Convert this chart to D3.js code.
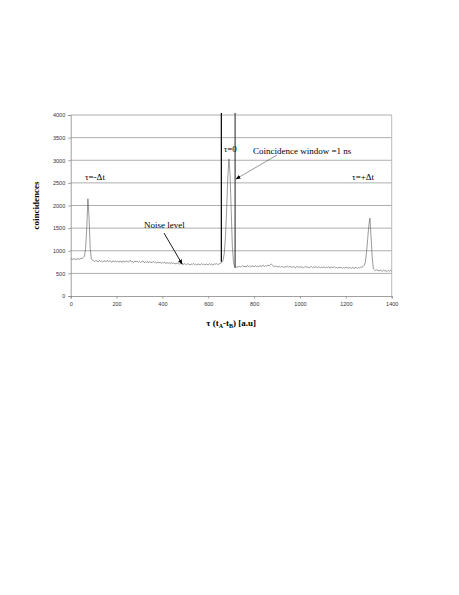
<!DOCTYPE html>
<html>
  <head>
    <meta charset="utf-8">
    <title>coincidences</title>
    <script src="https://d3js.org/d3.v7.min.js"></script>
    <style>
      body { margin: 0; background: #fff; }
      .tick text { font-family: "Liberation Sans", Arial, sans-serif; font-size: 5.5px; fill: #333; }
      .note { font-family: "Liberation Serif", "Times New Roman", serif; font-size: 9px; fill: #000; }
      .title { font-family: "Liberation Serif", "Times New Roman", serif; font-size: 9px; font-weight: bold; fill: #000; }
    </style>
  </head>
  <body>
    <svg width="459" height="595"></svg>

  <script>
    // step of the tau axis (a.u.) between two counts
    var tauStep = 5;

    // counts per 100 a.u. row (20 values each), tau = 0 .. 1400
    var counts = [
      810, 830, 805, 825, 815, 800, 835, 820, 810, 840, 825, 850, 880, 1050, 1500, 2150, 1750, 1050, 830, 790,
      780, 760, 790, 770, 755, 785, 765, 775, 750, 780, 770, 760, 790, 755, 775, 765, 745, 780, 760, 770,
      755, 775, 745, 770, 760, 740, 780, 750, 765, 775, 745, 770, 790, 750, 760, 740, 775, 755, 770, 745,
      765, 740, 760, 775, 735, 755, 745, 770, 730, 760, 745, 735, 765, 740, 750, 725, 755, 735, 745, 720,
      745, 730, 750, 715, 740, 725, 735, 710, 745, 720, 730, 705, 725, 715, 735, 700, 720, 710, 690, 715,
      705, 690, 715, 700, 685, 710, 695, 720, 690, 705, 685, 710, 700, 690, 715, 695, 705, 685, 710, 700,
      690, 715, 695, 705, 685, 710, 700, 720, 695, 705, 715, 725, 750, 800, 950, 1300, 1900, 2600, 3030, 2700,
      1900, 1100, 750, 640, 625, 650, 635, 660, 640, 655, 670, 645, 660, 640, 675, 650, 665, 640, 670, 655,
      645, 670, 650, 665, 640, 675, 655, 660, 680, 650, 670, 660, 685, 665, 690, 705, 680, 660, 645, 665,
      650, 640, 660, 635, 655, 645, 630, 650, 640, 660, 635, 650, 645, 630, 655, 640, 625, 650, 640, 635,
      650, 630, 645, 625, 640, 655, 630, 645, 620, 640, 650, 625, 640, 630, 655, 620, 645, 635, 625, 640,
      630, 645, 620, 640, 625, 650, 615, 635, 640, 620, 645, 625, 630, 615, 640, 620, 635, 610, 630, 620,
      625, 640, 610, 630, 620, 615, 640, 605, 625, 635, 610, 630, 620, 640, 635, 650, 680, 750, 950, 1250,
      1550, 1720, 1300, 850, 600, 575, 560, 580, 565, 555, 575, 560, 545, 570, 555, 560, 540, 565, 550, 560,
      555
    ];

    var xTicks = [0, 200, 400, 600, 800, 1000, 1200, 1400];
    var yTicks = [0, 500, 1000, 1500, 2000, 2500, 3000, 3500, 4000];

    // coincidence window edges (a.u.)
    var windowEdges = [657, 717];
    var windowEdgeBottoms = [755, 625];

    var svg = d3.select("svg");

    var plotL = 70.7, plotR = 391.7, plotT = 115, plotB = 296;

    var xScale = d3.scaleLinear().domain([0, 1400]).range([plotL, plotR]);
    var yScale = d3.scaleLinear().domain([0, 4000]).range([plotB, plotT]);

    svg.append("defs").append("marker")
      .attr("id", "head")
      .attr("viewBox", "0 0 10 10")
      .attr("refX", 9).attr("refY", 5)
      .attr("markerWidth", 5).attr("markerHeight", 5)
      .attr("markerUnits", "userSpaceOnUse")
      .attr("orient", "auto")
      .append("path")
      .attr("d", "M0,1 L10,5 L0,9 Z")
      .attr("fill", "#000");

    // grid lines
    svg.append("g")
      .selectAll("line")
      .data(yTicks.slice(1))
      .enter().append("line")
      .attr("x1", plotL).attr("x2", plotR)
      .attr("y1", function(d) { return yScale(d); })
      .attr("y2", function(d) { return yScale(d); })
      .attr("stroke", "#999")
      .attr("stroke-width", 0.8);

    // right border of plot area
    svg.append("line")
      .attr("x1", plotR).attr("x2", plotR)
      .attr("y1", plotT).attr("y2", plotB)
      .attr("stroke", "#aaa")
      .attr("stroke-width", 0.8);

    // axes
    var xAxis = svg.append("g")
      .attr("transform", "translate(0," + plotB + ")")
      .call(d3.axisBottom(xScale).tickValues(xTicks).tickFormat(d3.format("d")).tickSize(2.5).tickPadding(4));
    var yAxis = svg.append("g")
      .attr("transform", "translate(" + plotL + ",0)")
      .call(d3.axisLeft(yScale).tickValues(yTicks).tickFormat(d3.format("d")).tickSize(2.5).tickPadding(3));

    [xAxis, yAxis].forEach(function(a) {
      a.select(".domain").attr("stroke", "#888").attr("stroke-width", 0.8);
      a.selectAll(".tick line").attr("stroke", "#888").attr("stroke-width", 0.8);
    });

    // data line
    var line = d3.line()
      .x(function(d, i) { return xScale(i * tauStep); })
      .y(function(d) { return yScale(d); });

    svg.append("path")
      .datum(counts)
      .attr("d", line)
      .attr("fill", "none")
      .attr("stroke", "#555")
      .attr("stroke-width", 0.6);

    // window edges
    svg.selectAll(".edge")
      .data(windowEdges)
      .enter().append("line")
      .attr("class", "edge")
      .attr("x1", function(d) { return xScale(d); })
      .attr("x2", function(d) { return xScale(d); })
      .attr("y1", yScale(4045))
      .attr("y2", function(d, i) { return yScale(windowEdgeBottoms[i]); })
      .attr("stroke", function(d, i) { return i === 0 ? "#000" : "#444"; })
      .attr("stroke-width", 1.2);

    // annotations
    function note(x, y, txt) {
      svg.append("text").attr("class", "note")
        .attr("x", xScale(x)).attr("y", yScale(y))
        .text(txt);
    }
    note(62, 2560, "τ=-Δt");
    note(667, 3180, "τ=0");
    note(795, 3140, "Coincidence window =1 ns");
    note(1227, 2560, "τ=+Δt");
    note(320, 1500, "Noise level");

    svg.append("line")
      .attr("x1", xScale(407)).attr("y1", yScale(1390))
      .attr("x2", xScale(486)).attr("y2", yScale(707))
      .attr("stroke", "#000").attr("stroke-width", 0.9)
      .attr("marker-end", "url(#head)");

    svg.append("line")
      .attr("x1", xScale(900)).attr("y1", yScale(3116))
      .attr("x2", xScale(721)).attr("y2", yScale(2586))
      .attr("stroke", "#555").attr("stroke-width", 0.6)
      .attr("marker-end", "url(#head)");

    // axis titles
    svg.append("text")
      .attr("class", "title")
      .attr("transform", "translate(39," + ((plotT + plotB) / 2) + ") rotate(-90)")
      .attr("text-anchor", "middle")
      .text("coincidences");

    var xt = svg.append("text")
      .attr("class", "title")
      .attr("x", (plotL + plotR) / 2)
      .attr("y", 326)
      .attr("text-anchor", "middle");
    xt.append("tspan").text("τ (t");
    xt.append("tspan").attr("font-size", "6px").attr("dy", 2).text("A");
    xt.append("tspan").attr("dy", -2).text("-t");
    xt.append("tspan").attr("font-size", "6px").attr("dy", 2).text("B");
    xt.append("tspan").attr("dy", -2).text(") [a.u]");
  </script>
  </body>
</html>
